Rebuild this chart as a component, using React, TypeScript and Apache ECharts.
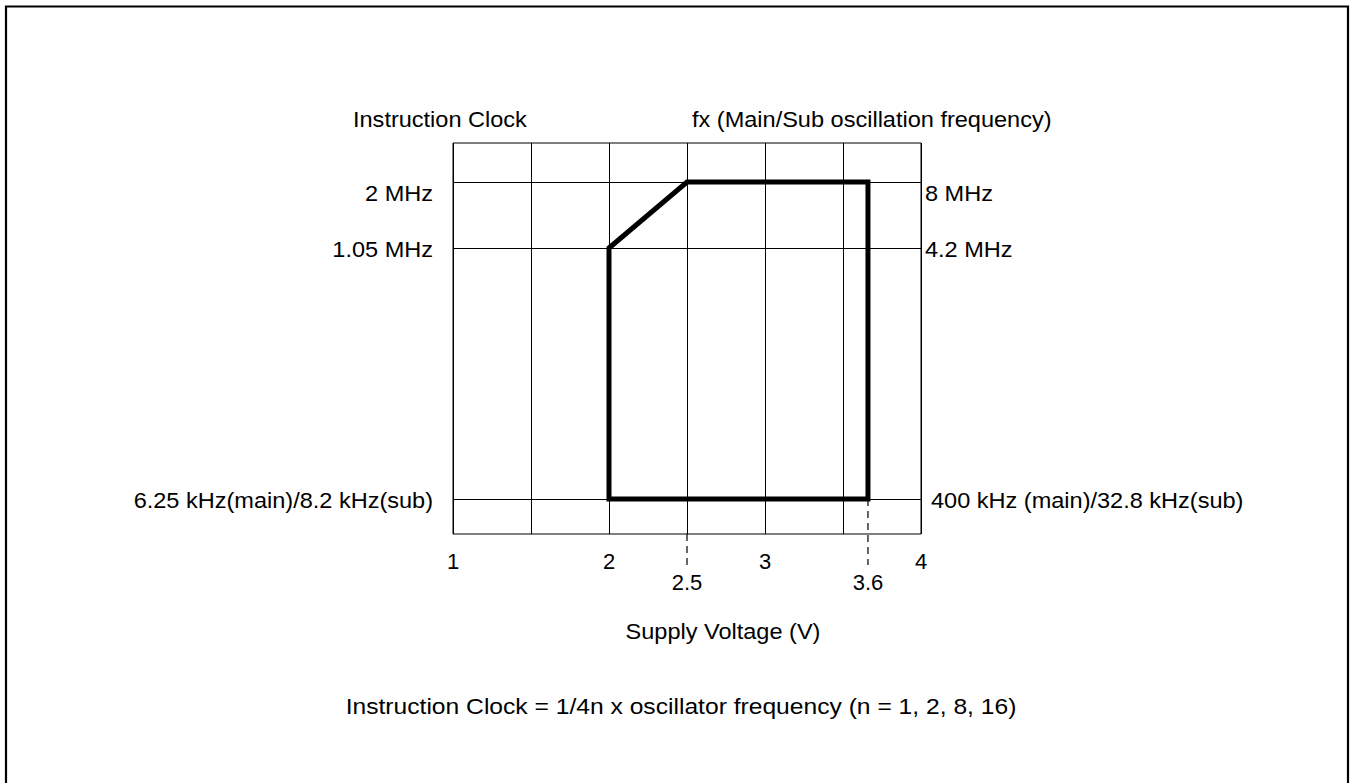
import React, { useEffect, useRef } from 'react';
import * as echarts from 'echarts';

// ---- data ----
const voltMin = 1;
const voltMax = 4;
const voltStep = 0.5;
const voltTickLabels = [1, 2, 3, 4];
const markedVolts = [2.5, 3.66]; // where the drawing places 2.5 V and 3.6 V
const markedVoltLabels = ['2.5', '3.6'];
// schematic (non-linear) frequency rows, in % of plot height from the bottom
const levelRows = [8.95, 73.15, 90.03];
const leftLevelLabels = ['6.25 kHz(main)/8.2 kHz(sub)', '1.05 MHz', '2 MHz'];
const rightLevelLabels = ['400 kHz (main)/32.8 kHz(sub)', '4.2 MHz', '8 MHz'];
// operating-area boundary
const boundaryVolts = [2, 2, 2.5, 3.66, 3.66, 2];
const boundaryLevelIdx = [0, 1, 2, 2, 0, 0];
const dashBottomRow = -7.9;

const FONT = '"Liberation Sans", Arial, sans-serif';
const FS = 22;
const SX = 1.07;

function txt(id: string, text: string, x: number, y: number, align: string, sx = SX) {
  return {
    id,
    type: 'text',
    x,
    y,
    scaleX: sx,
    silent: true,
    style: {
      text,
      fill: '#000',
      fontSize: FS,
      fontFamily: FONT,
      align,
      verticalAlign: 'middle',
      textAlign: align,
      textVerticalAlign: 'middle',
    },
  };
}

export default function App() {
  const ref = useRef<HTMLDivElement>(null);
  useEffect(() => {
    if (!ref.current) return;
    const chart = echarts.init(ref.current, null, { renderer: 'svg' });
    const boundary = boundaryVolts.map((v, i) => [v, levelRows[boundaryLevelIdx[i]]]);
    const dashSeries = markedVolts.map((v, i) => ({
      type: 'line',
      xAxisIndex: 0,
      yAxisIndex: 0,
      clip: false,
      silent: true,
      symbol: 'none',
      data: [
        [v, i === 0 ? 0 : levelRows[0]],
        [v, dashBottomRow],
      ],
      lineStyle: { color: '#000', width: 1.2, type: [7, 5] },
      z: 3,
    }));
    chart.setOption({
      animation: false,
      backgroundColor: '#fff',
      grid: {
        left: 453,
        right: 1352 - 921,
        top: 143,
        bottom: 783 - 534,
        show: true,
        borderColor: '#000',
        borderWidth: 1,
        backgroundColor: 'transparent',
        containLabel: false,
      },
      xAxis: [
        {
          type: 'value',
          min: voltMin,
          max: voltMax,
          interval: voltStep,
          axisLine: { show: false },
          axisTick: { show: false },
          splitLine: { show: true, lineStyle: { color: '#000', width: 1 } },
          axisLabel: {
            show: true,
            color: '#000',
            fontSize: FS,
            fontFamily: FONT,
            margin: 16,
            showMinLabel: true,
            showMaxLabel: true,
            formatter: (v: number) => (voltTickLabels.indexOf(v) >= 0 ? String(v) : ''),
          },
        },
        {
          type: 'value',
          gridIndex: 0,
          position: 'bottom',
          min: voltMin,
          max: voltMax,
          axisLine: { show: false },
          axisTick: { show: false },
          splitLine: { show: false },
          axisLabel: {
            show: true,
            color: '#000',
            fontSize: FS,
            fontFamily: FONT,
            margin: 37,
            customValues: markedVolts,
            formatter: (v: number) => {
              const i = markedVolts.indexOf(v);
              return i >= 0 ? markedVoltLabels[i] : '';
            },
          },
        },
      ],
      yAxis: {
        type: 'value',
        min: 0,
        max: 100,
        axisLine: { show: false },
        axisTick: { show: false },
        axisLabel: { show: false },
        splitLine: { show: false },
      },
      series: [
        {
          type: 'line',
          xAxisIndex: 0,
          yAxisIndex: 0,
          silent: true,
          symbol: 'none',
          data: boundary,
          lineStyle: { color: '#000', width: 5, join: 'miter', cap: 'square' },
          z: 5,
          markLine: {
            silent: true,
            symbol: ['none', 'none'],
            label: { show: false },
            lineStyle: { color: '#000', width: 1, type: 'solid' },
            data: levelRows.map((r) => ({ yAxis: r })),
            z: 2,
          },
        },
        ...dashSeries,
      ],
    });

    const leftX = 433;
    const rightX = [931, 925, 925];
    const labelDy = [1, 1, 11];
    const labels: any[] = [];
    levelRows.forEach((r, i) => {
      const p = chart.convertToPixel({ gridIndex: 0 }, [voltMin, r]) as number[];
      labels.push(txt('l' + i, leftLevelLabels[i], leftX, p[1] + labelDy[i], 'right'));
      labels.push(txt('r' + i, rightLevelLabels[i], rightX[i], p[1] + labelDy[i], 'left'));
    });

    chart.setOption({
      graphic: [
        {
          id: 'frame',
          type: 'rect',
          silent: true,
          shape: { x: 6, y: 6.5, width: 1342, height: 840 },
          style: { fill: 'none', stroke: '#000', lineWidth: 2.2 },
        },
        txt('t1', 'Instruction Clock', 353, 119, 'left'),
        txt('t2', 'fx (Main/Sub oscillation frequency)', 692, 119, 'left'),
        txt('xn', 'Supply Voltage (V)', 723, 631, 'center'),
        txt('ft', 'Instruction Clock = 1/4n x oscillator frequency (n = 1, 2, 8, 16)', 681, 706, 'center', 1.12),
        ...labels,
      ],
    });

    return () => chart.dispose();
  }, []);
  return (
    <div
      ref={ref}
      style={{ position: 'absolute', left: 0, top: 0, width: 1352, height: 783, background: '#fff' }}
    />
  );
}
